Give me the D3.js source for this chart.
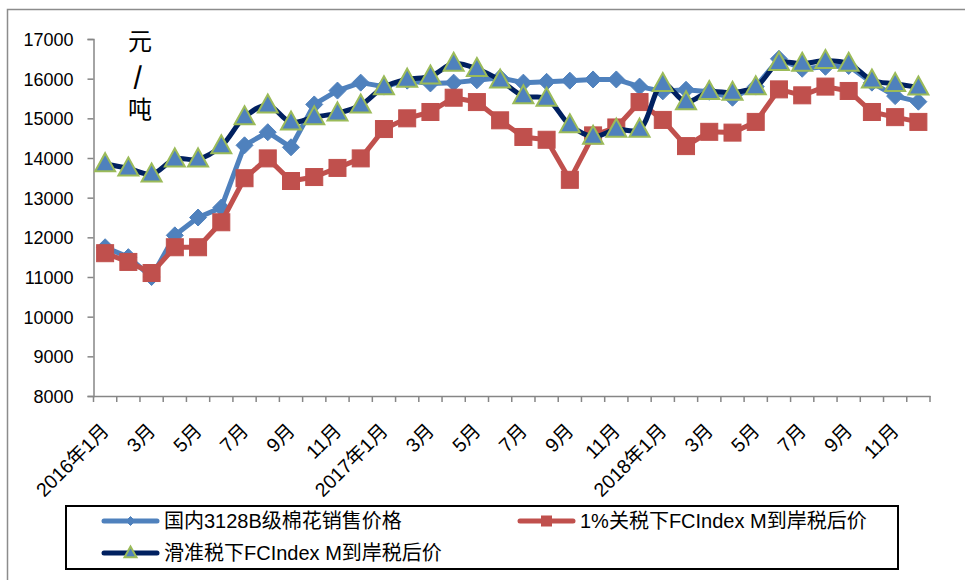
<!DOCTYPE html>
<html><head><meta charset="utf-8">
<script src="https://cdn.jsdelivr.net/npm/d3@7"></script>
<style>
html,body{margin:0;padding:0;background:#fff;}
svg{display:block;}
text{font-family:"Liberation Sans","Noto Sans CJK SC",sans-serif;fill:#000;}
</style></head>
<body>
<svg id="chart" width="965" height="580"></svg>
<script>
const categories = [
 "2016年1月","2月","3月","4月","5月","6月","7月","8月","9月","10月","11月","12月",
 "2017年1月","2月","3月","4月","5月","6月","7月","8月","9月","10月","11月","12月",
 "2018年1月","2月","3月","4月","5月","6月","7月","8月","9月","10月","11月","12月"];
const domesticPrice = [11750,11500,11000,12050,12500,12750,14320,14650,14270,15350,15700,15900,
 15800,15950,15880,15900,15960,16020,15900,15920,15950,15980,15980,15800,
 15680,15720,15670,15520,15800,16500,16250,16300,16320,15900,15560,15420];
const quota1Price = [11600,11380,11100,11750,11750,12380,13490,13990,13420,13520,13750,13990,
 14730,15000,15160,15520,15410,14950,14530,14460,13450,14570,14770,15410,
 14960,14300,14660,14640,14910,15730,15580,15800,15690,15160,15030,14910];
const slidingPrice = [13850,13740,13590,13970,13970,14300,15030,15330,14900,15030,15130,15330,
 15790,15980,16060,16380,16250,15960,15560,15500,14830,14540,14720,14720,
 15870,15410,15670,15650,15790,16400,16380,16450,16380,15960,15870,15780];
const yTicks = [8000,9000,10000,11000,12000,13000,14000,15000,16000,17000];
const seriesNames = ["国内3128B级棉花销售价格","1%关税下FCIndex M到岸税后价","滑准税下FCIndex M到岸税后价"];
const unitLabel = ["元","/","吨"];

const svg = d3.select("#chart");
const L = 93.5, R = 930, T = 39, B = 396;
const idx = d3.range(categories.length);
const x = d3.scaleBand().domain(idx).range([L, R]);
const y = d3.scaleLinear().domain([8000,17000]).range([B, T]);
const cx = i => x(i) + x.bandwidth()/2;
const axisColor = "#868686";

// outer border
svg.append("rect").attr("x",7.5).attr("y",9.5).attr("width",1000).attr("height",1000)
  .attr("fill","none").attr("stroke","#8c8c8c").attr("stroke-width",1.5);

// y axis
const yAxis = svg.append("g").attr("transform",`translate(${L},0)`)
  .call(d3.axisLeft(y).tickValues(yTicks).tickSize(6).tickPadding(14).tickFormat(d3.format("d")));
yAxis.select(".domain").attr("stroke",axisColor).attr("stroke-width",1.5);
yAxis.selectAll(".tick line").attr("stroke",axisColor).attr("stroke-width",1.5);
yAxis.selectAll("text").style("font-size","18px").attr("font-family",null).attr("dy","0.36em");

// x axis
const xAxis = svg.append("g").attr("transform",`translate(0,${B})`)
  .call(d3.axisBottom(x).tickSize(0).tickFormat(i => i%2===0 ? categories[i] : ""));
xAxis.select(".domain").attr("stroke",axisColor).attr("stroke-width",1.5);
xAxis.selectAll(".tick text")
  .style("font-size","19.5px").attr("font-family",null)
  .attr("text-anchor","end").attr("y",0).attr("dy",0)
  .attr("transform","translate(5,36) rotate(-45)");
// boundary ticks
const bounds = idx.map(i => x(i)).concat([x(idx[idx.length-1]) + x.bandwidth()]);
svg.append("g").selectAll("line").data(bounds).join("line")
  .attr("x1",d=>d).attr("x2",d=>d).attr("y1",B).attr("y2",B+6)
  .attr("stroke",axisColor).attr("stroke-width",1.5);

// unit label
svg.append("g").selectAll("text").data(unitLabel).join("text")
  .attr("x",(d,i)=>i===1?138:140).attr("y",(d,i)=>[50,85,118][i]).attr("text-anchor","middle")
  .style("font-family",'"Noto Sans CJK SC",sans-serif')
  .style("font-size","24px").style("font-weight",(d,i)=>i===1?"bold":"normal").text(d=>d);

const colors = ["#4F81BD","#C0504D","#002060"];
const data = [domesticPrice, quota1Price, slidingPrice];
const lineStraight = d3.line().x((d,i)=>cx(i)).y(d=>y(d));
const lineSmooth = d3.line().x((d,i)=>cx(i)).y(d=>y(d)).curve(d3.curveCatmullRom.alpha(0.5));

function marker(g, type, size) {
  if (type===0) {
    const r = size/2;
    g.append("path").attr("d",`M0,${-r}L${r},0L0,${r}L${-r},0Z`)
      .attr("fill","#4F81BD").attr("stroke","#4F81BD").attr("stroke-width",1);
  } else if (type===1) {
    g.append("rect").attr("x",-size/2).attr("y",-size/2).attr("width",size).attr("height",size)
      .attr("fill","#C0504D").attr("stroke","#C0504D").attr("stroke-width",1);
  } else {
    const h = size*0.9, w = size;
    g.append("path").attr("d",`M0,${-h*0.6}L${w/2},${h*0.4}L${-w/2},${h*0.4}Z`)
      .attr("fill","#4F81BD").attr("stroke","#9BBB59").attr("stroke-width",2).attr("stroke-linejoin","miter");
  }
}

const sizes = [17, 17, 20];
data.forEach((vals, s) => {
  svg.append("path").datum(vals)
    .attr("d", s===2 ? lineSmooth : lineStraight)
    .attr("fill","none").attr("stroke",colors[s]).attr("stroke-width",5)
    .attr("stroke-linejoin","round").attr("stroke-linecap","round");
  vals.forEach((v,i)=>{
    const g = svg.append("g").attr("transform",`translate(${cx(i)},${y(v)})`);
    marker(g, s, sizes[s]);
  });
});

// legend
svg.append("rect").attr("x",66).attr("y",506).attr("width",832).attr("height",63)
  .attr("fill","#fff").attr("stroke","#000").attr("stroke-width",2);
const legendPos = [[104,521],[520,521],[104,553]];
seriesNames.forEach((name,s)=>{
  const [lx,ly] = legendPos[s];
  const g = svg.append("g");
  g.append("line").attr("x1",lx).attr("x2",lx+53).attr("y1",ly).attr("y2",ly)
    .attr("stroke",colors[s]).attr("stroke-width",5).attr("stroke-linecap","round");
  const mg = g.append("g").attr("transform",`translate(${lx+26.5},${ly})`);
  marker(mg, s, [9,10,12][s]);
  g.append("text").attr("x",lx+60).attr("y",ly).attr("dy","0.36em")
    .style("font-size","20px").text(name);
});
</script>
</body></html>
